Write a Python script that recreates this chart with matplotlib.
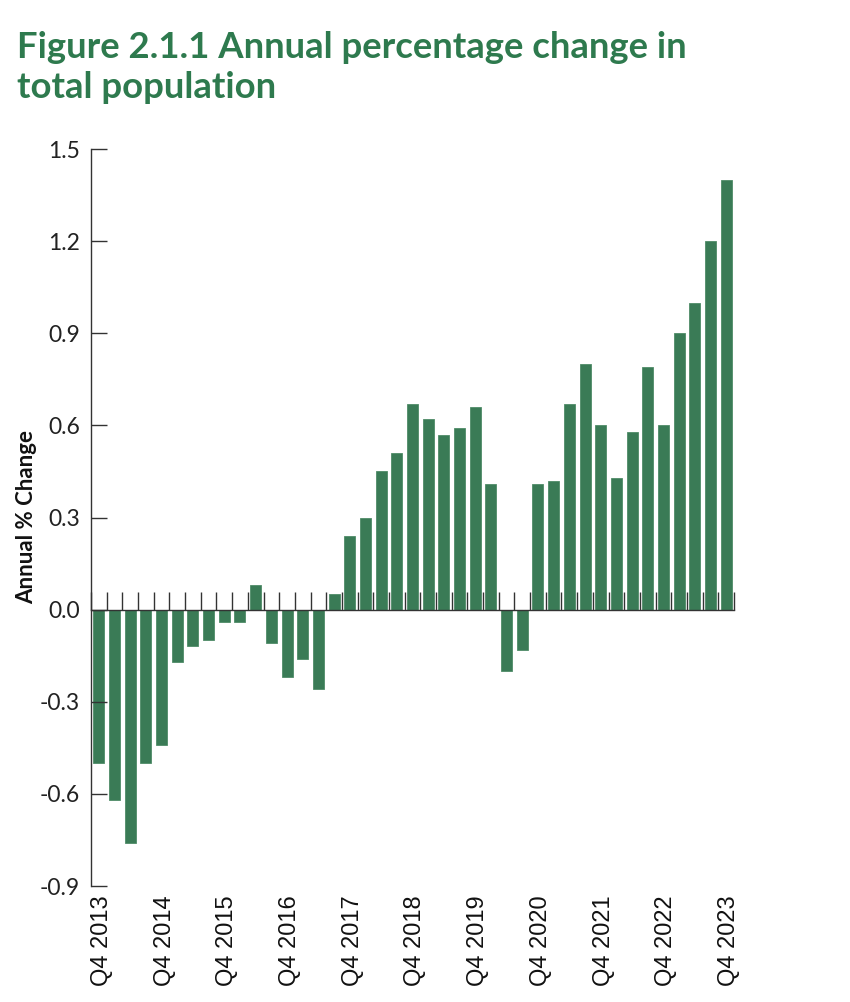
import matplotlib
matplotlib.use("Agg")
import matplotlib.pyplot as plt
import numpy as np
from matplotlib.ticker import FixedLocator, NullFormatter
from matplotlib.transforms import offset_copy

quarters = ["Q4 2013", "Q1 2014", "Q2 2014", "Q3 2014",
            "Q4 2014", "Q1 2015", "Q2 2015", "Q3 2015",
            "Q4 2015", "Q1 2016", "Q2 2016", "Q3 2016",
            "Q4 2016", "Q1 2017", "Q2 2017", "Q3 2017",
            "Q4 2017", "Q1 2018", "Q2 2018", "Q3 2018",
            "Q4 2018", "Q1 2019", "Q2 2019", "Q3 2019",
            "Q4 2019", "Q1 2020", "Q2 2020", "Q3 2020",
            "Q4 2020", "Q1 2021", "Q2 2021", "Q3 2021",
            "Q4 2021", "Q1 2022", "Q2 2022", "Q3 2022",
            "Q4 2022", "Q1 2023", "Q2 2023", "Q3 2023",
            "Q4 2023"]
pct_change = [-0.50, -0.62, -0.76, -0.50,
              -0.44, -0.17, -0.12, -0.10,
              -0.04, -0.04, 0.08, -0.11,
              -0.22, -0.16, -0.26, 0.05,
              0.24, 0.30, 0.45, 0.51,
              0.67, 0.62, 0.57, 0.59,
              0.66, 0.41, -0.20, -0.13,
              0.41, 0.42, 0.67, 0.80,
              0.60, 0.43, 0.58, 0.79,
              0.60, 0.90, 1.00, 1.20,
              1.40]
yticks = [-0.9, -0.6, -0.3, 0.0, 0.3, 0.6, 0.9, 1.2, 1.5]
shown_labels = ["Q4 2013", "Q4 2014", "Q4 2015", "Q4 2016", "Q4 2017", "Q4 2018",
                "Q4 2019", "Q4 2020", "Q4 2021", "Q4 2022", "Q4 2023"]

GREEN = "#3a7b56"
TITLE_GREEN = "#2e7a4e"

fig = plt.figure(figsize=(8.5, 10.02), dpi=100)
ax = fig.add_axes([91/850, 1-886/1002, (734-91)/850, (886-149)/1002])

x = np.arange(len(quarters))
ax.bar(x, pct_change, width=0.7, color=GREEN, edgecolor="#4f8c68", linewidth=0.6, zorder=1)

ax.set_xlim(-0.5, len(quarters) - 0.5)
ax.set_ylim(-0.9, 1.5)

for s in ["top", "right"]:
    ax.spines[s].set_visible(False)
ax.spines["bottom"].set_position(("data", 0))
ax.spines["bottom"].set_color("#333333")
ax.spines["left"].set_color("#333333")
ax.spines["bottom"].set_linewidth(1.0)
ax.spines["left"].set_linewidth(1.0)

ax.xaxis.set_major_locator(FixedLocator(np.arange(-0.5, len(quarters), 1.0)))
ax.xaxis.set_major_formatter(NullFormatter())
ax.tick_params(axis="x", direction="in", length=13, width=1.0, color="#333333")

ax.set_yticks(yticks)
ax.set_yticklabels([f"{v:.1f}" for v in yticks])
ax.tick_params(axis="y", direction="in", length=11.5, width=1.0, color="#333333",
               labelsize=16.5, pad=8)
for lab in ax.get_yticklabels():
    lab.set_fontfamily("Lato")
    lab.set_color("#222222")

label_tr = offset_copy(ax.transData, fig=fig, x=3, y=-9, units="dots")
for q in shown_labels:
    i = quarters.index(q)
    ax.text(i, -0.9, q, transform=label_tr, rotation=90, ha="center", va="top",
            fontsize=17, family="Liberation Sans", color="#111111")

fig.text(27/850, 1-517/1002, "Annual % Change", rotation=90, ha="center", va="center",
         fontsize=16, fontweight="bold", family="Lato", color="#111111")

fig.text(17/850, 1-58/1002, "Figure 2.1.1 Annual percentage change in",
         ha="left", va="baseline", fontsize=26.3, fontweight="bold", family="Lato",
         color=TITLE_GREEN)
fig.text(17/850, 1-98/1002, "total population",
         ha="left", va="baseline", fontsize=26.3, fontweight="bold", family="Lato",
         color=TITLE_GREEN)

fig.savefig("out.png", dpi=100)
